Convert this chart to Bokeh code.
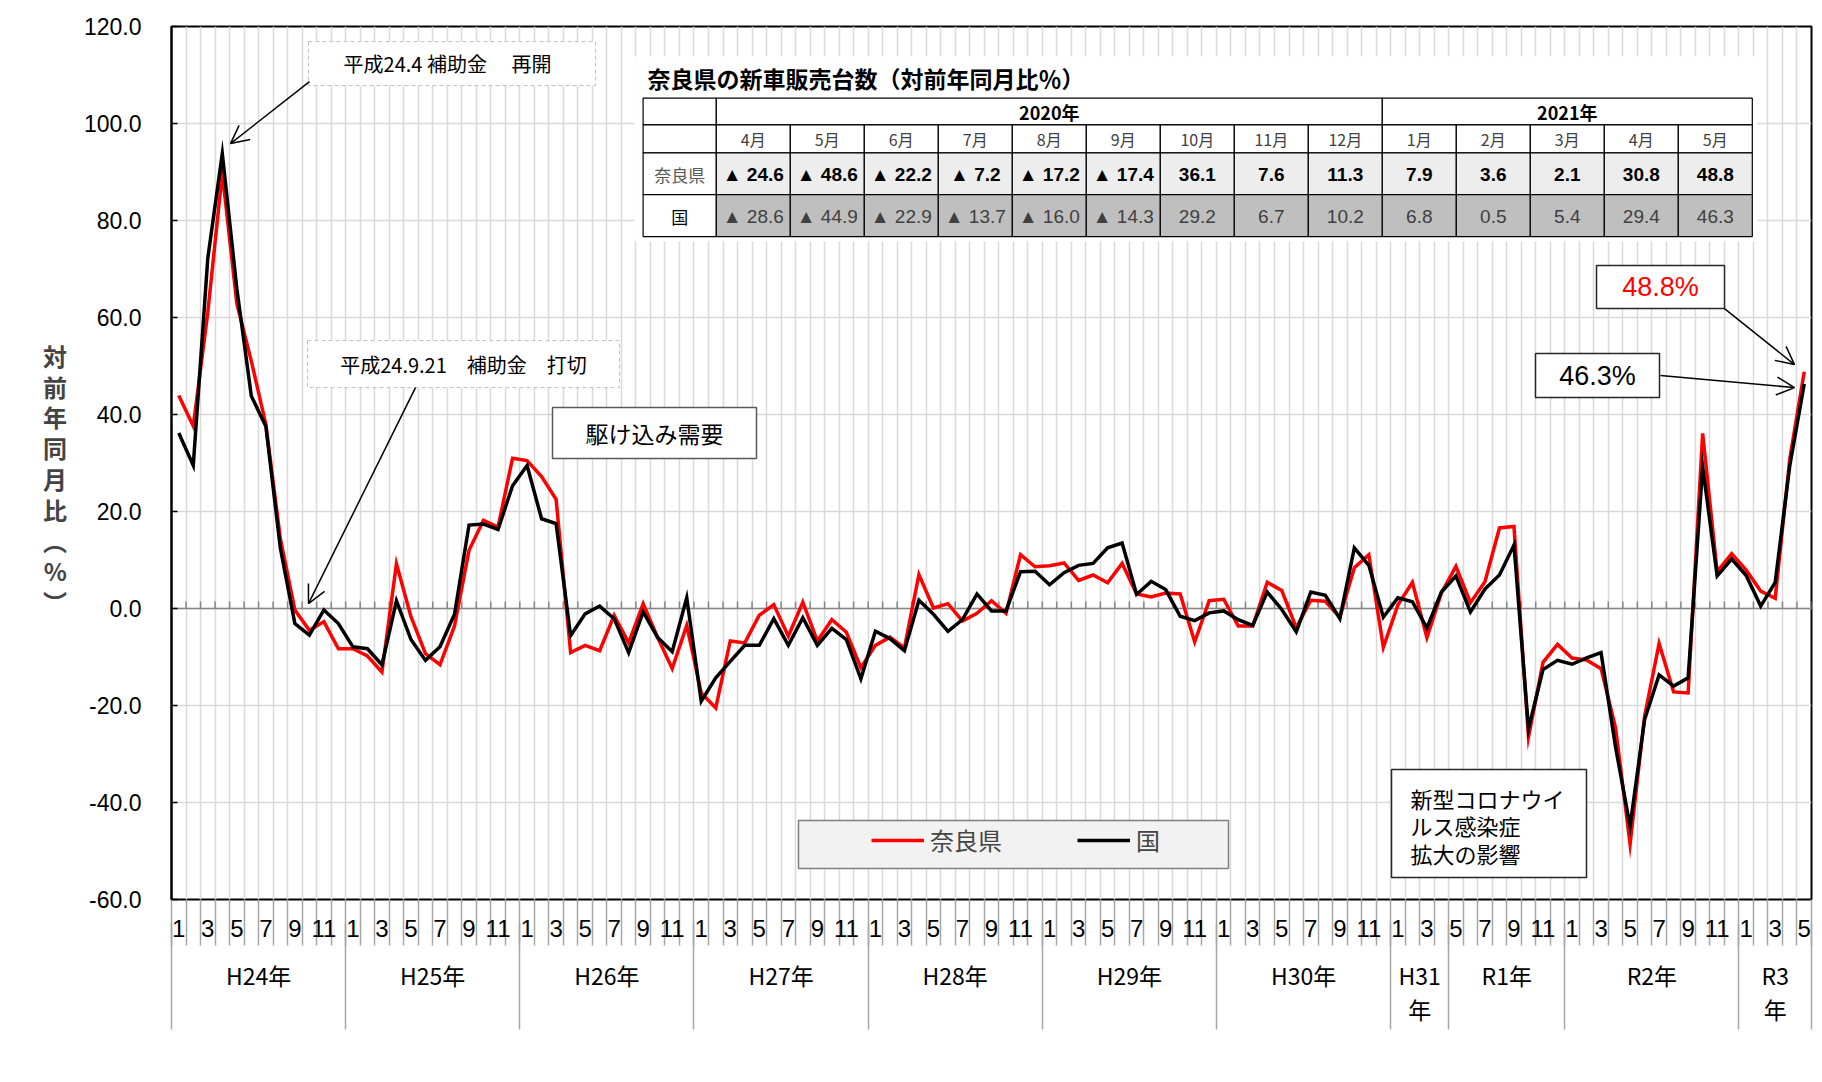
from bokeh.plotting import figure
from bokeh.models import (Range1d, FixedTicker, LinearAxis, Grid, Arrow,
                          OpenHead, Legend, LegendItem, CustomJSTickFormatter)
from bokeh.core.properties import value
from bokeh.embed import file_html
from bokeh.resources import INLINE

# ---------------- data ----------------
nara = [43.9, 37.6, 61.0, 89.8, 62.9, 51.0, 38.0, 14.4, -0.3, -4.5, -2.7, -8.3,
        -8.3, -9.8, -13.1, 9.2, -1.7, -9.3, -11.6, -3.6, 12.0, 18.2, 16.8, 31.0,
        30.5, 27.2, 22.5, -9.1, -7.6, -8.7, -1.4, -7.1, 1.0, -6.0, -12.4, -3.5,
        -17.4, -20.5, -6.7, -7.1, -1.4, 0.8, -5.7, 1.3, -6.7, -2.3, -4.9, -12.2,
        -7.6, -5.9, -8.1, 7.0, 0.1, 1.0, -2.6, -1.0, 1.6, -1.0, 11.1, 8.6,
        8.8, 9.4, 5.8, 6.9, 5.3, 9.3, 3.0, 2.4, 3.2, 3.0, -6.9, 1.6,
        1.9, -3.6, -3.6, 5.4, 3.7, -4.0, 1.7, 1.5, -1.8, 8.4, 11.1, -8.0,
        0.7, 5.4, -6.0, 3.2, 8.7, 1.2, 5.5, 16.6, 16.9, -26.5, -11.1, -7.4,
        -10.2, -10.6, -12.4, -24.6, -48.6, -22.2, -7.2, -17.2, -17.4, 36.1, 7.6, 11.3,
        7.9, 3.6, 2.1, 30.8, 48.8]

kuni = [36.2, 29.5, 72.2, 93.8, 66.0, 43.8, 37.6, 12.5, -3.1, -5.5, -0.3, -3.1,
        -7.9, -8.3, -11.6, 1.6, -6.4, -10.7, -7.9, -1.2, 17.2, 17.4, 16.3, 25.3,
        29.5, 18.5, 17.5, -5.6, -1.1, 0.5, -2.1, -9.1, -0.7, -6.0, -8.9, 2.2,
        -19.1, -14.3, -10.9, -7.6, -7.6, -2.1, -7.6, -1.9, -7.6, -4.1, -6.4, -14.5,
        -4.7, -6.2, -8.7, 1.7, -1.2, -4.7, -2.3, 3.0, -0.5, -0.5, 7.6, 7.7,
        4.9, 7.4, 8.9, 9.3, 12.5, 13.5, 2.9, 5.6, 3.9, -1.6, -2.5, -0.9,
        -0.5, -2.3, -3.5, 3.4, -0.2, -4.8, 3.4, 2.7, -2.1, 12.5, 8.9, -1.8,
        2.2, 1.4, -4.0, 3.4, 6.7, -0.7, 4.0, 6.9, 13.1, -24.8, -12.6, -10.7,
        -11.5, -10.2, -9.1, -28.6, -44.9, -22.9, -13.7, -16.0, -14.3, 29.2, 6.7, 10.2,
        6.8, 0.5, 5.4, 29.4, 46.3]

series_names = ["奈良県", "国"]
first_month = 1  # January of H24
month_numbers = [((first_month - 1 + i) % 12) + 1 for i in range(len(nara))]
x_tick_labels = [str(m) for m in month_numbers]

year_labels = ["H24年", "H25年", "H26年", "H27年", "H28年", "H29年",
               "H30年", "H31\n年", "R1年", "R2年", "R3\n年"]
year_months = [12, 12, 12, 12, 12, 12, 12, 4, 8, 12, 5]

y_ticks = [-60, -40, -20, 0, 20, 40, 60, 80, 100, 120]
y_tick_labels = ["-60.0", "-40.0", "-20.0", "0.0", "20.0", "40.0", "60.0",
                 "80.0", "100.0", "120.0"]
y_title = "\u3000\n対\n前\n年\n同\n月\n比\n︵\n%\n︶"

table_title = "奈良県の新車販売台数（対前年同月比％）"
table_start = 99
table_year_labels = ["2020年", "2021年"]
table_year_spans = [9, 5]
table_month_labels = ["4月", "5月", "6月", "7月", "8月", "9月", "10月", "11月",
                      "12月", "1月", "2月", "3月", "4月", "5月"]
table_nara = nara[table_start:]
table_kuni = kuni[table_start:]

note_start = "平成24.4  補助金　  再開"
note_stop = "平成24.9.21　補助金　打切"
note_rush = "駆け込み需要"
note_covid = ["新型コロナウイ", "ルス感染症", "拡大の影響"]

n = len(nara)
xs = list(range(n))

# ---------------- layout helpers (reference pixels -> data units) ----------------
X0, XS = 171.0, (1811.0 - 171.0) / 113.0
Y0, YS = 607.9, 873.0 / 180.0


def fx(px):
    return (px - X0) / XS - 0.5


def fy(py):
    return (Y0 - py) / YS


JP = "Noto Sans CJK JP"
LAT = "Liberation Sans"

p = figure(width=1814, height=1074, x_range=Range1d(-0.5, n - 0.5),
           y_range=Range1d(-60, 120), x_axis_type=None, y_axis_type=None,
           output_backend="svg", toolbar_location=None,
           min_border_left=171, min_border_right=3, min_border_top=26,
           min_border_bottom=175)
p.outline_line_color = "black"
p.outline_line_width = 2
p.background_fill_color = "white"
p.border_fill_color = "white"

boundaries = [k - 0.5 for k in range(n + 1)]
label_idx = [i for i in range(n) if month_numbers[i] % 2 == 1]

p.add_layout(Grid(dimension=0, ticker=FixedTicker(ticks=boundaries),
                  grid_line_color="#D9D9D9", grid_line_width=1.5))
p.add_layout(Grid(dimension=1, ticker=FixedTicker(ticks=y_ticks),
                  grid_line_color="#D9D9D9", grid_line_width=1.5))

yaxis = LinearAxis(ticker=FixedTicker(ticks=y_ticks),
                   major_label_overrides={t: s for t, s in zip(y_ticks, y_tick_labels)},
                   major_label_text_font=LAT, major_label_text_font_size="23px",
                   major_label_text_color="black",
                   major_tick_in=6, major_tick_out=0, major_tick_line_width=1.5,
                   minor_tick_line_color=None, axis_line_width=2,
                   major_label_standoff=30,
                   axis_label=y_title, axis_label_orientation="horizontal",
                   axis_label_text_font=JP, axis_label_text_font_size="24px",
                   axis_label_text_font_style="bold", axis_label_text_line_height=0.88,
                   axis_label_standoff=14)
p.add_layout(yaxis, "left")

# month axis (labels + month boundary ticks)
xaxis = LinearAxis(ticker=FixedTicker(ticks=label_idx, minor_ticks=boundaries),
                   major_label_overrides={i: x_tick_labels[i] for i in label_idx},
                   major_label_text_font="Liberation Sans Narrow, Liberation Sans",
                   major_label_text_font_size="24px",
                   major_label_text_color="black",
                   major_tick_line_color=None, major_tick_in=0, major_tick_out=0,
                   minor_tick_in=0, minor_tick_out=46, minor_tick_line_color="#A6A6A6",
                   minor_tick_line_width=1.5, axis_line_color=None,
                   major_label_standoff=-26)
p.add_layout(xaxis, "below")

# year-group axis (labels + group separators)
group_bounds, group_centers, c0 = [boundaries[0]], [], 0
for cnt in year_months:
    group_centers.append(c0 + (cnt - 1) / 2)
    c0 += cnt
    group_bounds.append(c0 - 0.5)
year_fmt = CustomJSTickFormatter(args=dict(labels=year_labels),
                                 code="return labels[index];")
gaxis = LinearAxis(ticker=FixedTicker(ticks=group_centers, minor_ticks=group_bounds),
                   formatter=year_fmt,
                   major_label_text_font=JP, major_label_text_font_size="23px",
                   major_label_text_color="black", major_label_text_line_height=1.0,
                   major_tick_line_color=None, major_tick_in=0, major_tick_out=0,
                   minor_tick_in=16, minor_tick_out=90, minor_tick_line_color="#A6A6A6",
                   minor_tick_line_width=1.5, axis_line_color=None,
                   major_label_standoff=-72)
p.add_layout(gaxis, "below")

# zero line with category ticks
p.segment(x0=[boundaries[0]], x1=[boundaries[-1]], y0=[0], y1=[0],
          line_color="#868686", line_width=1.5)
p.segment(x0=boundaries, x1=boundaries, y0=[0] * len(boundaries),
          y1=[7 / YS] * len(boundaries), line_color="#868686", line_width=1.5)


def box(l, r, t, b, fill="white", line="#404040", width=1.5, dash="solid"):
    p.quad(left=[fx(l)], right=[fx(r)], top=[fy(t)], bottom=[fy(b)],
           fill_color=fill, line_color=line, line_width=width, line_dash=dash)


def texts(px, py, txt, size, font=JP, style="normal", color="black",
          align="center", baseline="middle"):
    p.text(x=[fx(v) for v in px], y=[fy(v) for v in py], text=txt,
           text_font=value(font), text_font_size=value(size),
           text_font_style=style, text_color=color,
           text_align=align, text_baseline=baseline)


# ---------------- boxes ----------------
box(634, 1757, 56, 241, fill="white", line=None)                       # table backdrop
box(308, 595, 41, 85, line="#BFBFBF", width=1, dash="4 3")            # 再開
box(307, 619, 340, 387, line="#BFBFBF", width=1, dash="4 3")          # 打切
box(552, 756, 407, 458, line="#595959", width=1.5)                    # 駆け込み
box(1596, 1724, 265, 308, line="#262626", width=1.5)                  # 48.8%
box(1535, 1659, 353, 397, line="#262626", width=1.5)                  # 46.3%
box(1391, 1586, 769, 877, line="#262626", width=1.5)                  # corona
box(798, 1228, 820, 868, fill="#F2F2F2", line="#7F7F7F", width=1.5)   # legend

# ---------------- table ----------------
T_L, T_LAB, CW = 642.6, 715.8, 74.0
R = [97.6, 124.3, 152.2, 194.0, 236.0]
ncol = len(table_month_labels)
for r in range(4):
    box(T_L, T_LAB, R[r], R[r + 1], fill="white", line="black", width=1.2)
c0 = 0
for lab, span in zip(table_year_labels, table_year_spans):
    box(T_LAB + CW * c0, T_LAB + CW * (c0 + span), R[0], R[1], fill="white",
        line="black", width=1.2)
    c0 += span
for j in range(ncol):
    l, r_ = T_LAB + CW * j, T_LAB + CW * (j + 1)
    box(l, r_, R[1], R[2], fill="white", line="black", width=1.2)
    box(l, r_, R[2], R[3], fill="#EDEDED", line="black", width=1.2)
    box(l, r_, R[3], R[4], fill="#BFBFBF", line="black", width=1.2)


def fmt(v):
    return "▲ %.1f" % abs(v) if v < 0 else "%.1f" % v


cx = [T_LAB + CW * (j + 0.5) for j in range(ncol)]
yc, c0 = [], 0
for span in table_year_spans:
    yc.append(T_LAB + CW * (c0 + span / 2))
    c0 += span
texts([647], [77], [table_title], "23px", style="bold", align="left")
texts(yc, [111] * len(yc), table_year_labels, "18px", style="bold")
texts(cx, [138.5] * ncol, table_month_labels, "16px", color="#404040")
texts(cx, [173.5] * ncol, [fmt(v) for v in table_nara], "19px", font=LAT,
      style="bold", color="black")
texts(cx, [215.5] * ncol, [fmt(v) for v in table_kuni], "19px", font=LAT,
      color="#404040")
texts([679.2], [173.5], [series_names[0]], "17px", color="#595959")
texts([679.2], [215.5], [series_names[1]], "17px", color="black")

# ---------------- notes ----------------
texts([451.5], [63], [note_start], "20px")
texts([463], [364], [note_stop], "20px")
texts([654], [432], [note_rush], "23px")
texts([1410] * 3, [797, 824, 852], note_covid, "22px", align="left")
texts([1660], [286.5], ["%.1f%%" % nara[-1]], "27px", font=LAT, color="#FF0000")
texts([1597], [375], ["%.1f%%" % kuni[-1]], "27px", font=LAT, color="black")

# ---------------- series ----------------
r_nara = p.line(xs, nara, line_color="#FF0000", line_width=3.5, line_join="miter")
r_kuni = p.line(xs, kuni, line_color="black", line_width=3.5, line_join="miter")

legend = Legend(items=[LegendItem(label=series_names[0], renderers=[r_nara]),
                       LegendItem(label=series_names[1], renderers=[r_kuni])],
                orientation="horizontal", location=(700, 42), padding=0, margin=0,
                spacing=75, glyph_width=53, glyph_height=26, label_height=26,
                label_standoff=6, label_text_font=JP, label_text_font_size="24px",
                background_fill_alpha=0, border_line_color=None)
p.add_layout(legend)

# ---------------- arrows ----------------
for (x1, y1, x2, y2) in [(309, 81, 230, 143), (415, 387, 308, 603),
                         (1724, 308, 1794, 364), (1660, 375, 1794, 387)]:
    p.add_layout(Arrow(end=OpenHead(size=18, line_width=1.5, line_color="black"),
                       x_start=fx(x1), y_start=fy(y1), x_end=fx(x2), y_end=fy(y2),
                       line_width=1.5, line_color="black"))

open("out.html", "w").write(file_html(p, INLINE))
